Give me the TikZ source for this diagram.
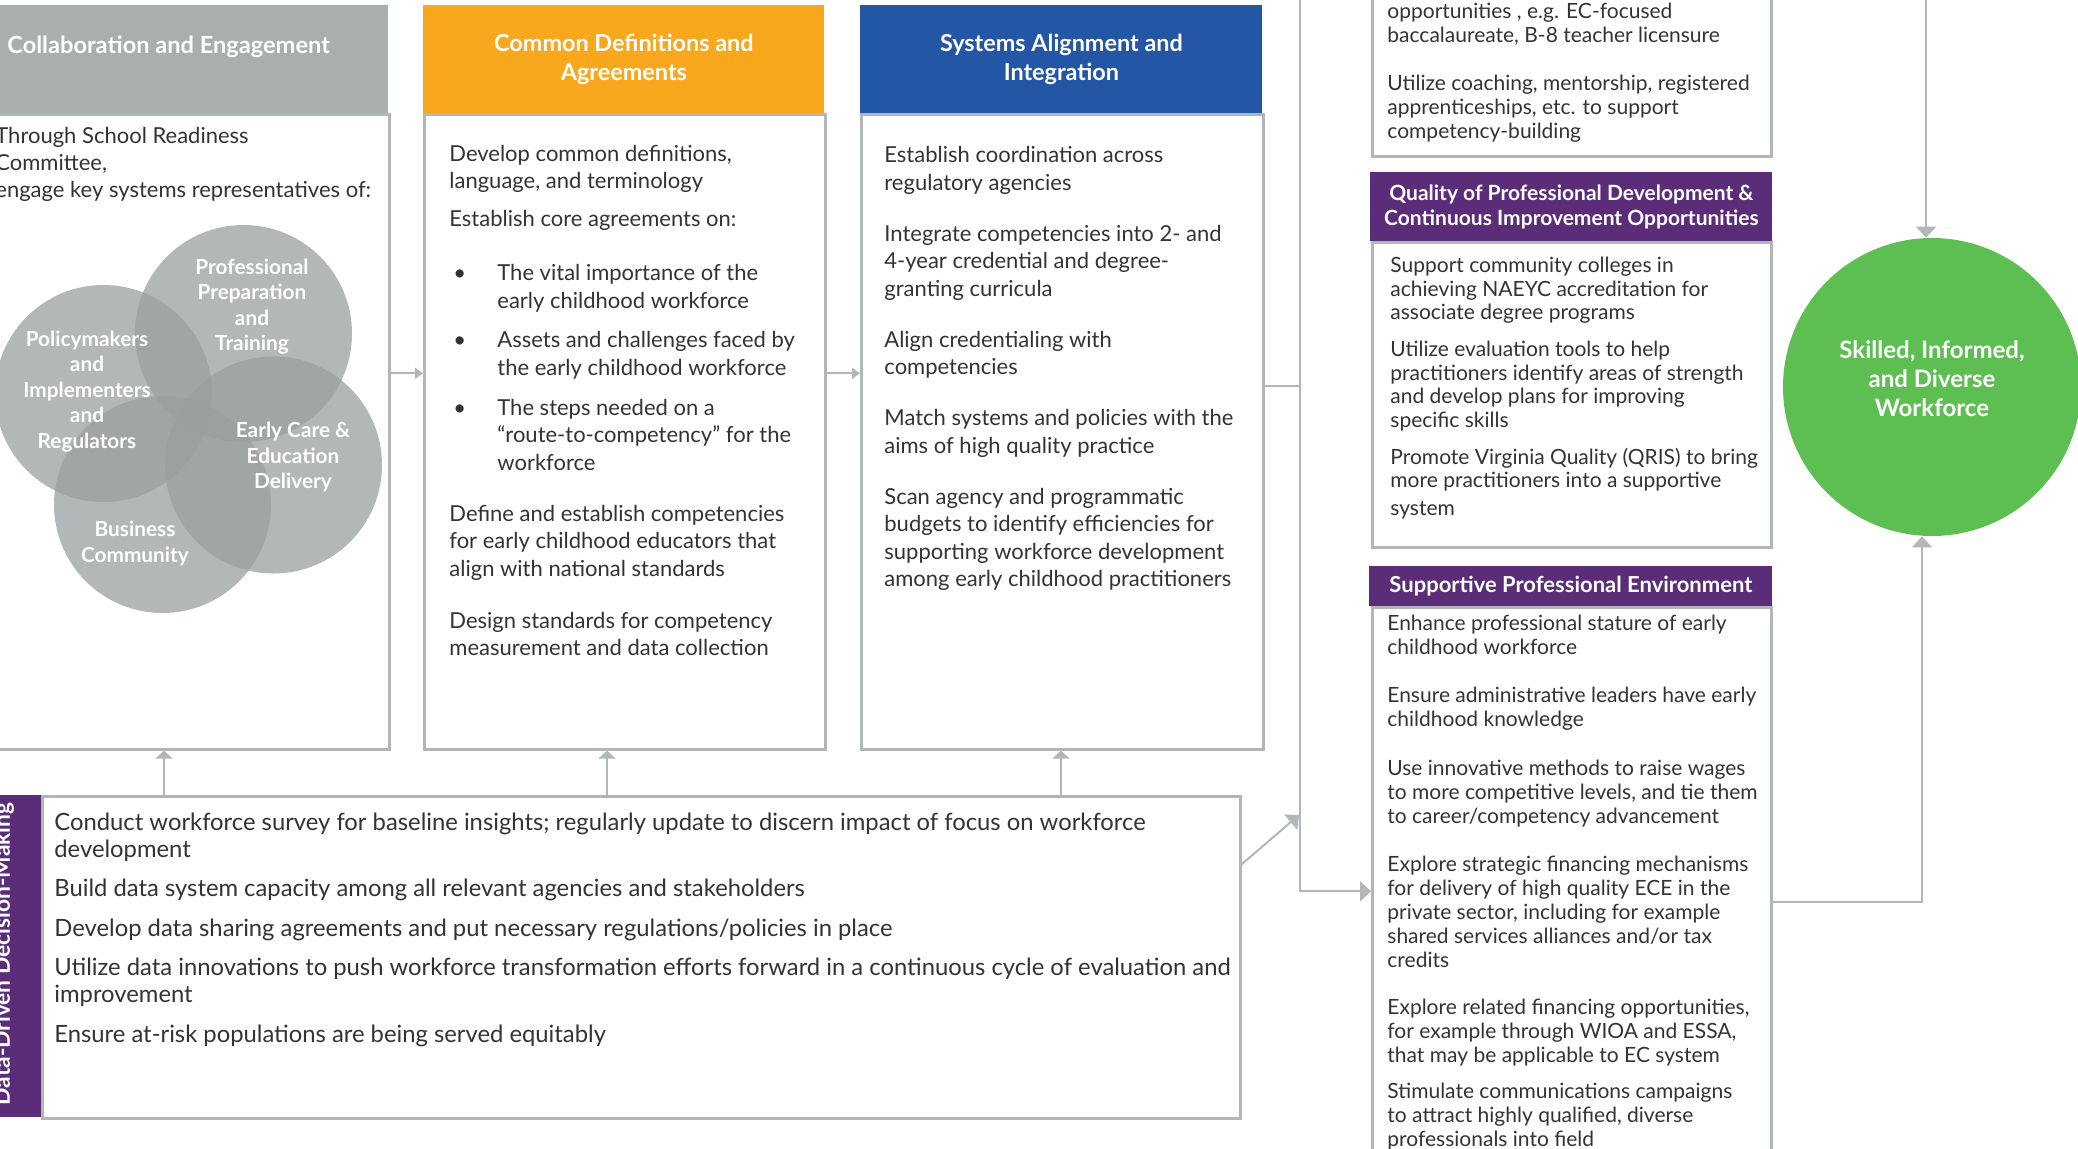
\documentclass[tikz,border=0pt]{standalone}
\usepackage{fontspec}
\setmainfont{Lato}
\usetikzlibrary{arrows.meta}
\definecolor{linegray}{HTML}{B3B6B8}
\definecolor{hdgray}{HTML}{A9AFAE}
\definecolor{hdorange}{HTML}{F9A81D}
\definecolor{hdblue}{HTML}{2357A6}
\definecolor{hdpurple}{HTML}{5B2D79}
\definecolor{wfgreen}{HTML}{5DBF52}
\definecolor{venngray}{HTML}{9C9F9F}
\definecolor{txtgray}{HTML}{333333}
\tikzset{
  hdr/.style  = {rectangle, anchor=north west, inner sep=0, text=white, align=center, font=\bfseries\fontsize{11.7}{14.5}\selectfont},
  pbox/.style = {rectangle, anchor=north west, draw=linegray, line width=1.3pt, fill=white, inner sep=0},
  txt/.style  = {anchor=north west, inner sep=0, align=left, text=txtgray, font=\fontsize{11}{13.75}\selectfont},
  rtxt/.style = {txt, font=\fontsize{10.5}{12}\selectfont},
  venn/.style = {circle, fill=venngray, fill opacity=0.75, minimum size=108.5pt, inner sep=0},
  vlab/.style = {text=white, align=center, inner sep=0, font=\bfseries\fontsize{10.4}{12.75}\selectfont},
  link/.style = {draw=linegray, line width=1pt},
  arr/.style  = {link, -{Triangle[length=5.5pt,width=10pt]}},
  uarr/.style = {link, -{Triangle[length=4pt,width=8.5pt]}},
  sarr/.style = {link, -{Triangle[length=4pt,width=5.5pt]}}
}

\begin{document}
\begin{tikzpicture}[x=0.5pt, y=-0.5pt]
  \useasboundingbox (0,0) rectangle (2078,1148);
  \clip (0,0) rectangle (2078,1148);
  \fill[white] (0,0) rectangle (2078,1148);

  % three panels
  \node[pbox, minimum width=199pt,   minimum height=317.5pt] (bd1) at (-10,113) {};
  \node[pbox, minimum width=200.5pt, minimum height=317.5pt] (bd2) at (423,113) {};
  \node[pbox, minimum width=201pt,   minimum height=317.5pt] (bd3) at (860,113) {};
  \node[hdr, fill=hdgray,   minimum width=199pt,   minimum height=54pt] (hd1) at (-10,5) {};
  \node[hdr, fill=hdorange, minimum width=200.5pt, minimum height=54pt] (hd2) at (423,5) {Common Definitions and\\Agreements};
  \node[hdr, fill=hdblue,   minimum width=201pt,   minimum height=54pt] (hd3) at (860,5) {Systems Alignment and\\Integration};
  \node[anchor=base west, inner sep=0, text=white, font=\bfseries\fontsize{11.8}{14.5}\selectfont] (ttl1) at (7,53) {Collaboration and Engagement};

  \node[txt, font=\fontsize{11}{13.5}\selectfont] (t1) at (-5,126.5) {Through School Readiness\\Committee,\\engage key systems representatives of:};

  % venn
  \node[venn] (v1) at (243.5,333.5) {};
  \node[venn] (v2) at (103.5,393.5) {};
  \node[venn] (v3) at (273.5,465) {};
  \node[venn] (v4) at (162.5,504.5) {};
  \node[vlab] (l1) at (252,306.5) {Professional\\Preparation\\and\\Training};
  \node[vlab] (l2) at (87,391.5)  {Policymakers\\and\\Implementers\\and\\Regulators};
  \node[vlab] (l3) at (293,457.5) {Early Care \&\\Education\\Delivery};
  \node[vlab] (l4) at (135,543.5) {Business\\Community};

  \node[txt] (t2) at (449,144.5) {Develop common definitions,\\language, and terminology\\[5.25pt]
    Establish core agreements on:\\[13.25pt]
    \hspace*{2pt}\makebox[22pt][l]{•}The vital importance of the\\\hspace*{24pt}early childhood workforce\\[6pt]
    \hspace*{2pt}\makebox[22pt][l]{•}Assets and challenges faced by\\\hspace*{24pt}the early childhood workforce\\[6.25pt]
    \hspace*{2pt}\makebox[22pt][l]{•}The steps needed on a\\\hspace*{24pt}“route-to-competency” for the\\\hspace*{24pt}workforce\\[11.75pt]
    Define and establish competencies\\for early childhood educators that\\align with national standards\\[12.25pt]
    Design standards for competency\\measurement and data collection};

  \node[txt] (t3) at (884,146) {Establish coordination across\\regulatory agencies\\[11.75pt]
    Integrate competencies into 2- and\\4-year credential and degree-\\granting curricula\\[11.75pt]
    Align credentialing with\\competencies\\[11.75pt]
    Match systems and policies with the\\aims of high quality practice\\[11.75pt]
    Scan agency and programmatic\\budgets to identify efficiencies for\\supporting workforce development\\among early childhood practitioners};

  % data box
  \node[pbox, minimum width=599pt, minimum height=161pt] (dd) at (41,795) {};
  \node[rectangle, anchor=north west, fill=hdpurple, inner sep=0, minimum width=23pt, minimum height=161pt] (ddbar) at (-5,795) {};
  \node[anchor=base, rotate=90, inner sep=0, text=white, font=\bfseries\fontsize{11.4}{12}\selectfont] (ddlab) at (10,954) {Data-Driven Decision-Making};
  \node[txt, font=\fontsize{11.9}{13.5}\selectfont] (t4) at (54,812.5) {Conduct workforce survey for baseline insights; regularly update to discern impact of focus on workforce\\development\\[6.25pt]
    Build data system capacity among all relevant agencies and stakeholders\\[6.25pt]
    Develop data sharing agreements and put necessary regulations/policies in place\\[6.25pt]
    Utilize data innovations to push workforce transformation efforts forward in a continuous cycle of evaluation and\\improvement\\[6.25pt]
    Ensure at-risk populations are being served equitably};

  % right column
  \node[pbox, minimum width=199.5pt, minimum height=87.5pt] (tb) at (1371,-20) {};
  \node[rtxt] (t5) at (1387,3) {opportunities , e.g. EC-focused\\baccalaureate, B-8 teacher licensure\\[12pt]
    Utilize coaching, mentorship, registered\\apprenticeships, etc. to support\\competency-building};

  \node[pbox, minimum width=199.5pt, minimum height=152.5pt] (qb) at (1371,241) {};
  \node[hdr, fill=hdpurple, minimum width=201pt, minimum height=34.5pt, font=\bfseries\fontsize{10.5}{12.5}\selectfont] (qh) at (1370,172) {Quality of Professional Development \&\\Continuous Improvement Opportunities};
  \node[rtxt, font=\fontsize{10.5}{11.85}\selectfont] (t6) at (1390,256.5) {Support community colleges in\\achieving NAEYC accreditation for\\associate degree programs\\[6.5pt]
    Utilize evaluation tools to help\\practitioners identify areas of strength\\and develop plans for improving\\specific skills\\[6.5pt]
    Promote Virginia Quality (QRIS) to bring\\more practitioners into a supportive\\[1.75pt]system};

  \node[pbox, minimum width=199.5pt, minimum height=284pt] (sb) at (1371,606) {};
  \node[hdr, fill=hdpurple, minimum width=201.5pt, minimum height=20pt, font=\bfseries\fontsize{11}{12}\selectfont] (sh) at (1369,566) {Supportive Professional Environment};
  \node[rtxt] (t7) at (1387,614.5) {Enhance professional stature of early\\childhood workforce\\[12pt]
    Ensure administrative leaders have early\\childhood knowledge\\[12.5pt]
    Use innovative methods to raise wages\\to more competitive levels, and tie them\\to career/competency advancement\\[12pt]
    Explore strategic financing mechanisms\\for delivery of high quality ECE in the\\private sector, including for example\\shared services alliances and/or tax\\credits\\[11.5pt]
    Explore related financing opportunities,\\for example through WIOA and ESSA,\\that may be applicable to EC system\\[6pt]
    Stimulate communications campaigns\\to attract highly qualified, diverse\\professionals into field};

  % outcome
  \node[circle, fill=wfgreen, minimum size=149pt, inner sep=0] (wf) at (1932,387) {};
  \node[text=white, align=center, inner sep=0, font=\bfseries\fontsize{12}{14.5}\selectfont] (wfl) at ([yshift=4pt]wf.center) {Skilled, Informed,\\and Diverse\\Workforce};

  % connectors
  \coordinate (u1) at (164,795);
  \coordinate (u2) at (607,795);
  \coordinate (u3) at (1061,795);
  \coordinate (vtop) at (1300,-5);
  \coordinate (vjoin) at (1299,815);
  \coordinate (wtop) at (1926,-5);

  \draw[sarr] ([yshift=29.25pt]bd1.east) -- ([yshift=29.25pt]bd2.west);
  \draw[sarr] ([yshift=29.25pt]bd2.east) -- ([yshift=29.25pt]bd3.west);
  \draw[uarr] (u1) -- (u1 |- bd1.south);
  \draw[uarr] (u2) -- (u2 |- bd2.south);
  \draw[uarr] (u3) -- (u3 |- bd3.south);
  \draw[link] ([yshift=22.75pt]bd3.east) -| (vtop);
  \draw[arr] (vtop) |- (sb.west);
  \draw[arr] ([yshift=46.5pt]dd.east) -- (vjoin);
  \draw[arr] (wtop) -- (wtop |- wf.north);
  \draw[arr] ([yshift=-5.5pt]sb.east) -| ([xshift=-5pt]wf.south);
\end{tikzpicture}
\end{document}
